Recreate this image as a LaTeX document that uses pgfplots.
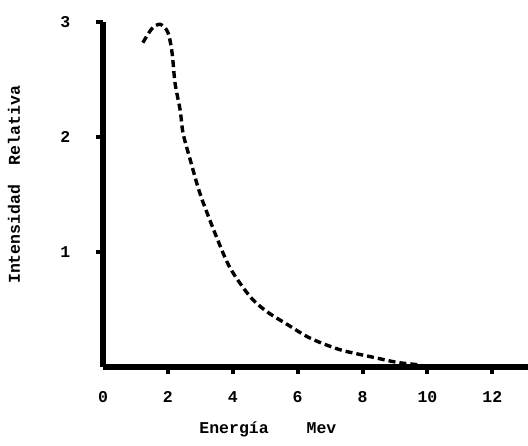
\documentclass[border=0pt]{standalone}
\usepackage{fontspec}
\setmainfont{Liberation Mono}
\usepackage{pgfplots}
\pgfplotsset{compat=1.18}
\begin{document}
\fontsize{16.5bp}{19bp}\selectfont\bfseries
\begin{tikzpicture}
\begin{axis}[
    at={(0,0)}, anchor=south west,
    scale only axis,
    width=425bp, height=345bp,
    xmin=0, xmax=13.1, ymin=0, ymax=3,
    clip=false,
    axis x line=bottom, axis y line=left,
    axis line style={line width=5.5bp, -},
    xtick={2,4,...,12}, ytick={1,2,3},
    extra x ticks={0},
    extra x tick style={major tick length=0pt, xticklabel style={yshift=-7bp}},
    tick align=outside, major tick length=7bp,
    tick style={line width=4bp, black},
    /pgf/number format/assume math mode=true,
    xticklabel style={anchor=base, yshift=-28bp, font=\fontsize{16.5bp}{19bp}\selectfont\bfseries},
    yticklabel style={anchor=east, xshift=-20bp, font=\fontsize{16.5bp}{19bp}\selectfont\bfseries},
]
% spectrum
\addplot[smooth, line width=3.4bp, dash pattern=on 7bp off 4bp] coordinates {
    (1.23,2.82) (1.50,2.94) (1.76,2.98) (2.00,2.91) (2.13,2.73)
    (2.22,2.47) (2.38,2.23) (2.47,2.03) (2.69,1.80) (2.93,1.56)
    (3.06,1.45) (3.50,1.13) (3.92,0.86) (4.54,0.61) (5.06,0.48)
    (5.68,0.37) (6.39,0.25) (7.31,0.15) (8.24,0.09) (9.07,0.04)
    (9.69,0.02) (10.0,0.0)
};
\node[anchor=base] at ([yshift=-66bp]rel axis cs:0.388,0) {Energía\hspace{2.3em}Mev};
\node[rotate=90, anchor=base] at ([xshift=-83bp]rel axis cs:0,0.528) {Intensidad\hspace{1.2em}Relativa};
\end{axis}
\pgfresetboundingbox
\useasboundingbox (-103bp,-79bp) rectangle (425bp,367bp);
\end{tikzpicture}
\end{document}
